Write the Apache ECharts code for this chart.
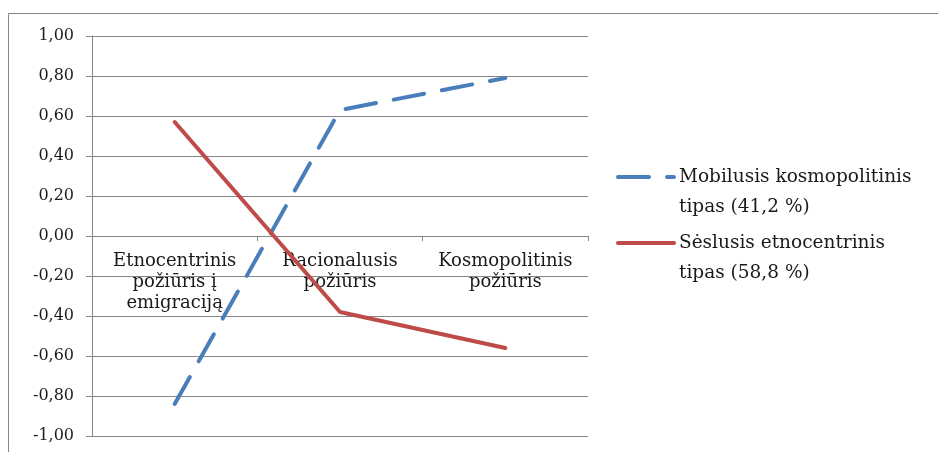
<!DOCTYPE html>
<html><head><meta charset="utf-8">
<script src="https://cdn.jsdelivr.net/npm/echarts@6/dist/echarts.min.js"></script>
<style>html,body{margin:0;padding:0;background:#fff}#c{width:938px;height:452px}</style>
</head><body><div id="c"></div>
<script>
const categories = ['Etnocentrinis\npožiūris į\nemigraciją', 'Racionalusis\npožiūris', 'Kosmopolitinis\npožiūris'];
const seriesNames = ['Mobilusis kosmopolitinis\ntipas (41,2 %)', 'Sėslusis etnocentrinis\ntipas (58,8 %)'];
const mobilusValues = [-0.84, 0.63, 0.79];
const seslusValues = [0.57, -0.38, -0.56];
const yTicks = { min: -1, max: 1, interval: 0.2 };

const chart = echarts.init(document.getElementById('c'));
const serif = 'DejaVu Serif';
const legendText = { fontFamily: serif, fontSize: 18.5, color: '#1a1a1a', lineHeight: 30 };
const legendCommon = { left: 616, orient: 'vertical', itemWidth: 56, itemHeight: 14, itemGap: 0, padding: 0, textStyle: legendText,
  formatter: n => '\n' + n, lineStyle: { width: 4, cap: 'round' }, itemStyle: { opacity: 0 } };
chart.setOption({
  animation: false,
  graphic: [{ type: 'rect', shape: { x: 8.5, y: 13.5, width: 940, height: 450 }, style: { fill: 'none', stroke: '#868686', lineWidth: 1 }, silent: true }],
  grid: { left: 92, right: 350, top: 36, bottom: 16, outerBoundsMode: 'none', containLabel: false },
  legend: [
    Object.assign({ data: [seriesNames[0]], top: 132 }, legendCommon),
    Object.assign({ data: [seriesNames[1]], top: 198 }, legendCommon)
  ],
  xAxis: {
    type: 'category', data: categories, boundaryGap: true,
    axisLine: { onZero: true, lineStyle: { color: '#868686', width: 1 } },
    axisTick: { show: true, length: 5, lineStyle: { color: '#868686' } },
    axisLabel: { fontFamily: serif, fontSize: 18, color: '#1a1a1a', lineHeight: 21, margin: -185, interval: 0 },
    splitLine: { show: false }
  },
  yAxis: {
    type: 'value', min: yTicks.min, max: yTicks.max, interval: yTicks.interval,
    axisLine: { show: true, lineStyle: { color: '#868686', width: 1 } },
    axisTick: { show: true, length: 6, lineStyle: { color: '#868686' } },
    axisLabel: { fontFamily: serif, fontSize: 16, color: '#1a1a1a', margin: 18,
      formatter: v => (Math.round(v * 100) / 100).toFixed(2).replace('.', ',') },
    splitLine: { show: true, lineStyle: { color: '#868686', width: 1 } }
  },
  series: [
    { name: seriesNames[0], type: 'line', data: mobilusValues, symbol: 'none', z: 3,
      lineStyle: { color: '#4a7ebb', width: 4, type: [31, 18], cap: 'round' }, itemStyle: { color: '#4a7ebb' } },
    { name: seriesNames[1], type: 'line', data: seslusValues, symbol: 'none', z: 3,
      lineStyle: { color: '#be4b48', width: 4, cap: 'round' }, itemStyle: { color: '#be4b48' } }
  ]
});
</script></body></html>
